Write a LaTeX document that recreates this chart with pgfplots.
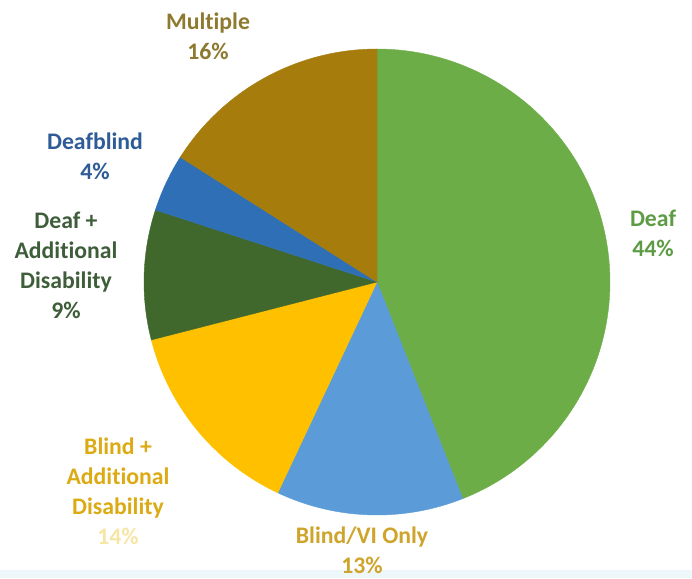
\documentclass[border=0pt]{standalone}
\usepackage{pgfplots}
\pgfplotsset{compat=1.18}
\usepackage{fontspec}
\setmainfont[Ligatures=NoCommon]{Carlito}
\definecolor{cDeaf}{HTML}{6CAD47}
\definecolor{cBlind}{HTML}{5B9BD8}
\definecolor{cBlindAdd}{HTML}{FFC000}
\definecolor{cDeafAdd}{HTML}{41682C}
\definecolor{cDeafblind}{HTML}{2E6FB6}
\definecolor{cMulti}{HTML}{A67C0C}
\definecolor{tDeaf}{HTML}{5E9B45}
\definecolor{tBlind}{HTML}{CFA42A}
\definecolor{tBlindAdd}{HTML}{DCAA12}
\definecolor{tBlindAddPct}{HTML}{F5E6A6}
\definecolor{tDeafAdd}{HTML}{3E5E3A}
\definecolor{tDeafblind}{HTML}{2F5C96}
\definecolor{tMulti}{HTML}{8D7A30}
% data: percentages, clockwise from 12 o'clock
\def\pDeaf{44}\def\pBlind{13}\def\pBlindAdd{14}\def\pDeafAdd{9}\def\pDeafblind{4}\def\pMulti{16}
\newcommand{\cx}{377}\newcommand{\cy}{296}\newcommand{\R}{233}
\begin{document}
\begin{tikzpicture}[lab/.style={font=\bfseries\fontsize{17.8}{22.5}\selectfont, align=center, inner sep=0pt}]
\begin{axis}[
  width=519pt, height=433.5pt, scale only axis,
  xmin=0, xmax=692, ymin=0, ymax=578,
  axis lines=none, clip=false,
]
\addplot[draw=none, fill={rgb,255:red,238;green,247;blue,249}] coordinates {(0,0) (692,0) (692,8) (0,8)} -- cycle;
\pgfmathsetmacro{\aA}{90}
\pgfmathsetmacro{\aB}{\aA-3.6*\pDeaf}
\pgfmathsetmacro{\aC}{\aB-3.6*\pBlind}
\pgfmathsetmacro{\aD}{\aC-3.6*\pBlindAdd}
\pgfmathsetmacro{\aE}{\aD-3.6*\pDeafAdd}
\pgfmathsetmacro{\aF}{\aE-3.6*\pDeafblind}
\pgfmathsetmacro{\aG}{\aF-3.6*\pMulti}
\addplot[fill=cDeaf, draw=cDeaf, line width=0.3pt, domain=\aB:\aA, samples=120, variable=\t] ({\cx+\R*cos(\t)},{\cy+\R*sin(\t)}) -- (axis cs:\cx,\cy) -- cycle;
\addplot[fill=cBlind, draw=cBlind, line width=0.3pt, domain=\aC:\aB, samples=60, variable=\t] ({\cx+\R*cos(\t)},{\cy+\R*sin(\t)}) -- (axis cs:\cx,\cy) -- cycle;
\addplot[fill=cBlindAdd, draw=cBlindAdd, line width=0.3pt, domain=\aD:\aC, samples=60, variable=\t] ({\cx+\R*cos(\t)},{\cy+\R*sin(\t)}) -- (axis cs:\cx,\cy) -- cycle;
\addplot[fill=cDeafAdd, draw=cDeafAdd, line width=0.3pt, domain=\aE:\aD, samples=40, variable=\t] ({\cx+\R*cos(\t)},{\cy+\R*sin(\t)}) -- (axis cs:\cx,\cy) -- cycle;
\addplot[fill=cDeafblind, draw=cDeafblind, line width=0.3pt, domain=\aF:\aE, samples=30, variable=\t] ({\cx+\R*cos(\t)},{\cy+\R*sin(\t)}) -- (axis cs:\cx,\cy) -- cycle;
\addplot[fill=cMulti, draw=cMulti, line width=0.3pt, domain=\aG:\aF, samples=60, variable=\t] ({\cx+\R*cos(\t)},{\cy+\R*sin(\t)}) -- (axis cs:\cx,\cy) -- cycle;
% labels
\node[lab, text=tMulti] at (axis cs:208,542) {Multiple\\16\%};
\node[lab, text=tDeafblind] at (axis cs:95,422) {Deafblind\\4\%};
\node[lab, text=tDeafAdd] at (axis cs:66,313) {Deaf +\\Additional\\Disability\\9\%};
\node[lab, text=tBlindAdd] at (axis cs:118,87) {Blind +\\Additional\\Disability\\\textcolor{tBlindAddPct}{14\%}};
\node[lab, text=tBlind] at (axis cs:362,28) {Blind/VI Only\\13\%};
\node[lab, text=tDeaf] at (axis cs:653,345) {Deaf\\44\%};
\end{axis}
\pgfresetboundingbox
\path (current axis.south west) rectangle (current axis.north east);
\end{tikzpicture}
\end{document}
